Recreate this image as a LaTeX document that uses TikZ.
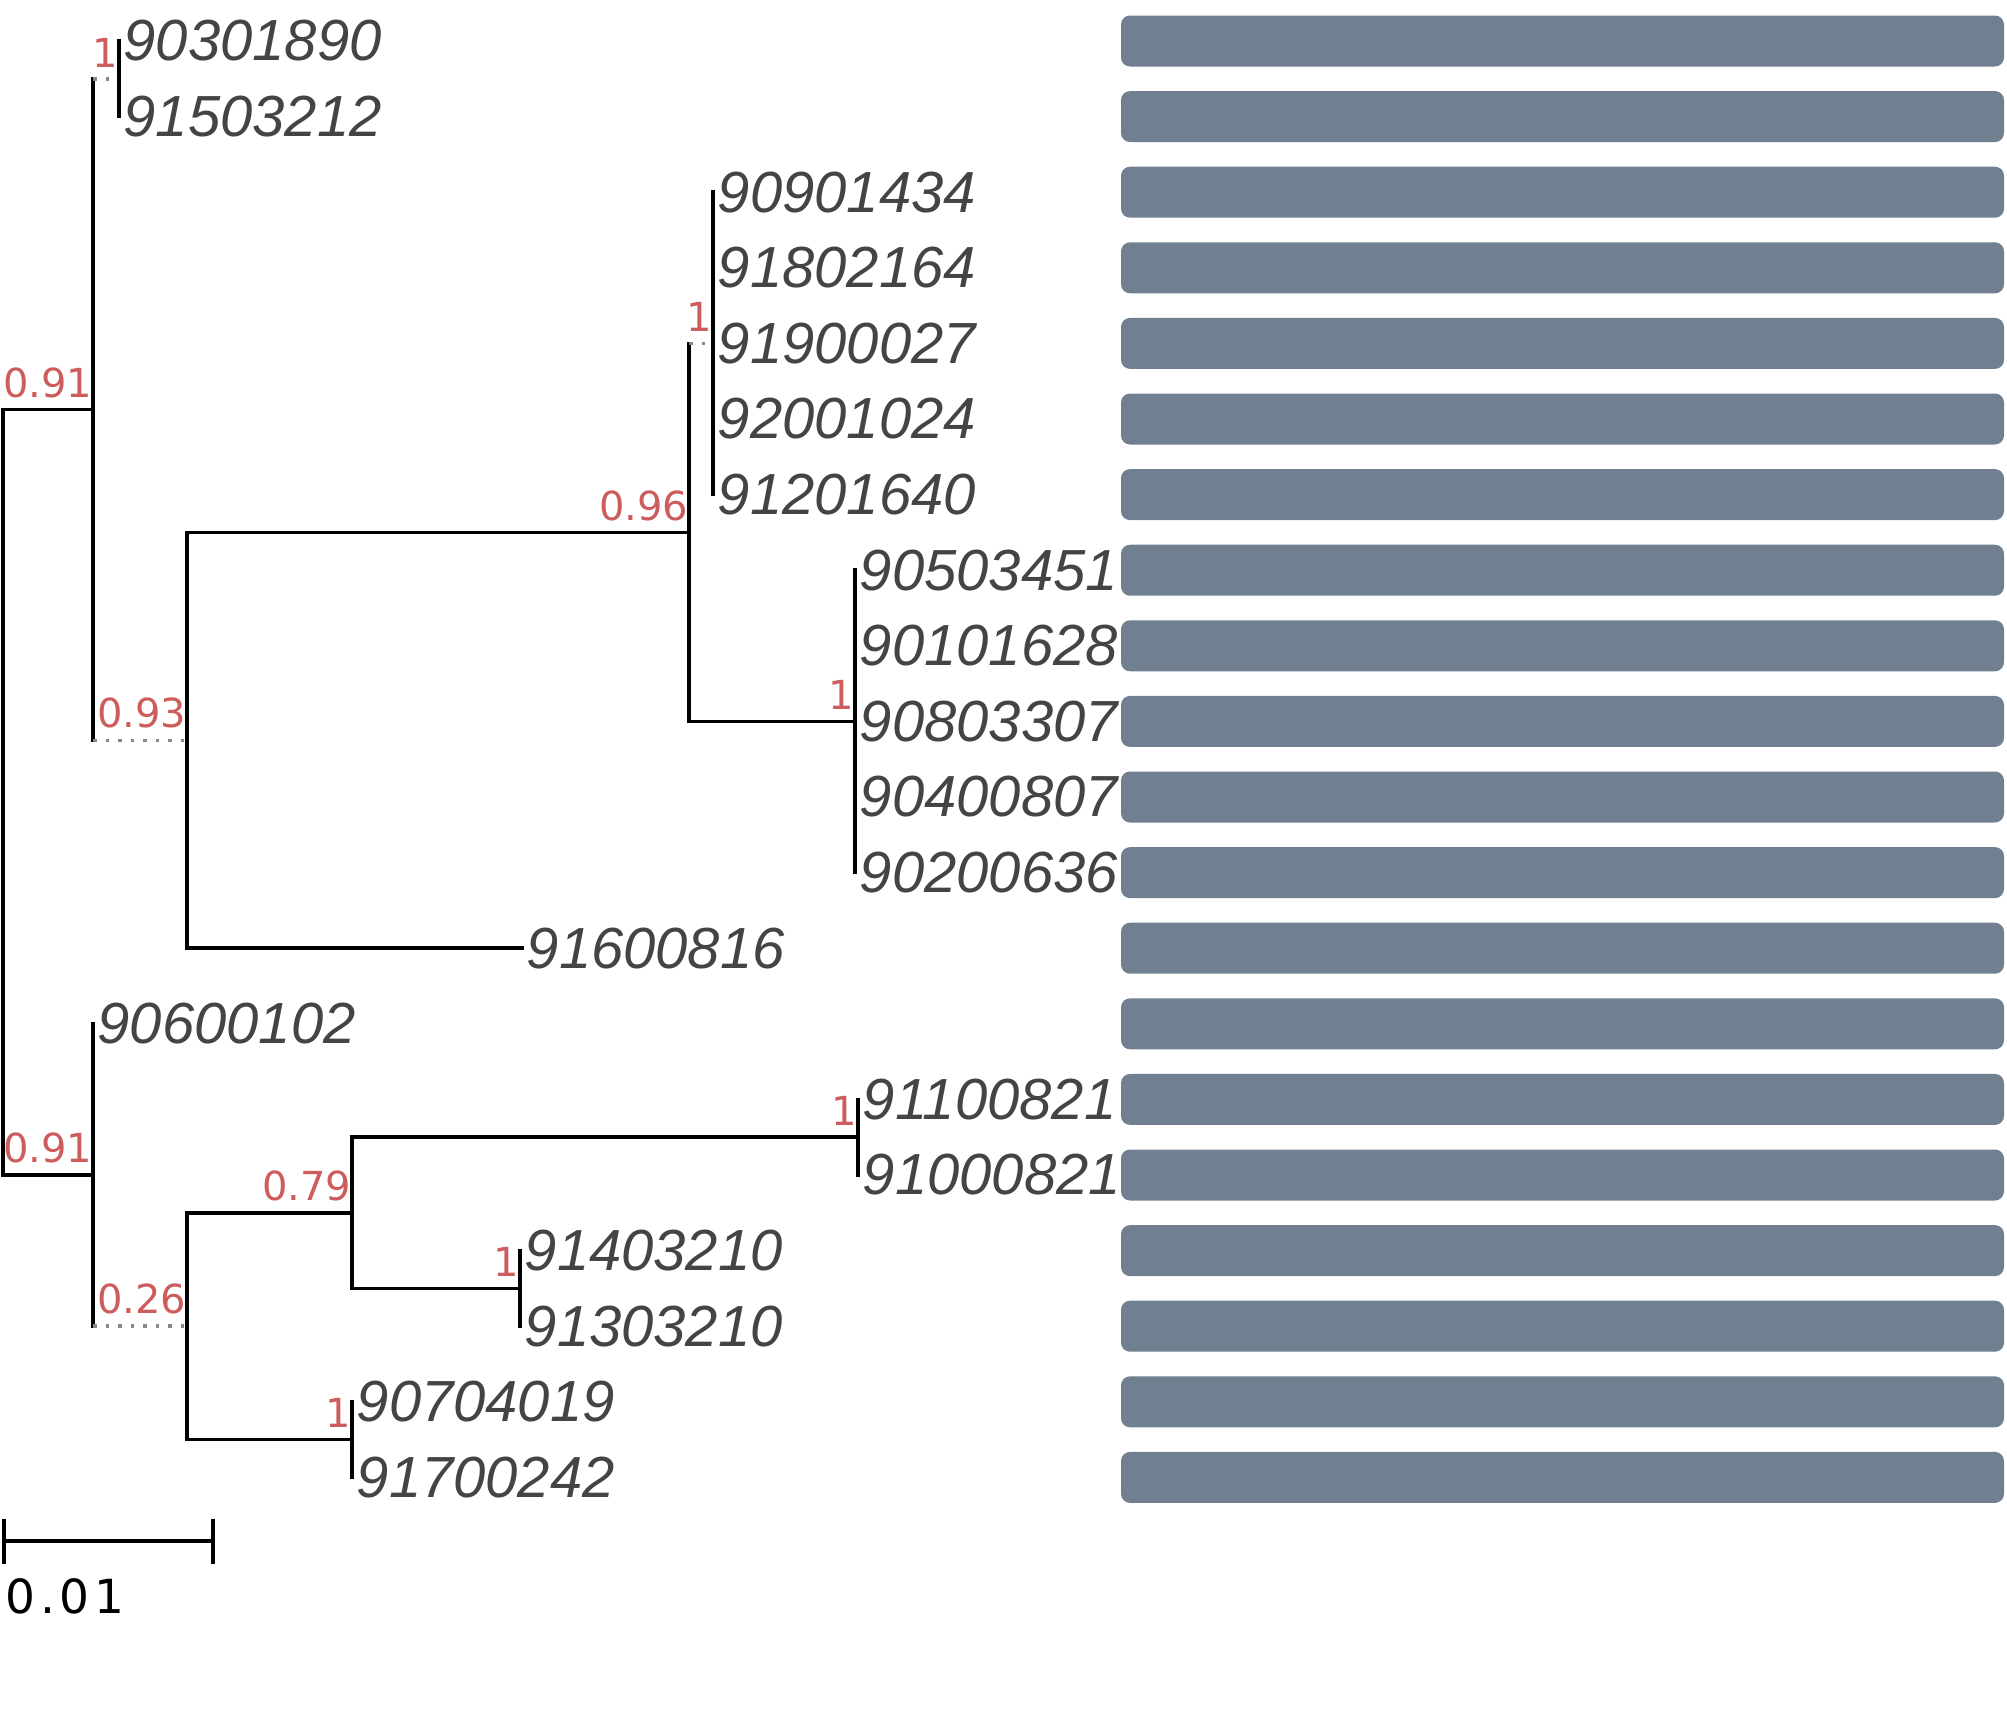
\documentclass[tikz,border=0pt]{standalone}
\usepackage{fontspec}
\newfontfamily\leaffont{Liberation Sans}
\newfontfamily\suppfont{DejaVu Sans}
\definecolor{barcol}{HTML}{708090}
\definecolor{suppred}{HTML}{CD5C5C}
\definecolor{leafgray}{HTML}{444444}
\definecolor{dotgray}{HTML}{888888}

\begin{document}
\begin{tikzpicture}[x=1pt, y=-1pt, line width=3.5pt,
  branch/.style={black, line cap=rect},
  dotbranch/.style={dotgray, line width=3.5pt, dash pattern=on 3.5pt off 9pt},
  leaf/.style={anchor=west, inner sep=0pt, xshift=3pt, text=leafgray,
    font=\leaffont\itshape\fontsize{58}{60}\selectfont},
  supp/.style={anchor=south east, inner sep=0pt, xshift=1pt, yshift=10pt,
    text=suppred, font=\suppfont\fontsize{40}{42}\selectfont},
  bar/.style={fill=barcol, rounded corners=9pt, minimum width=883pt,
    minimum height=51pt, inner sep=0pt}]

\useasboundingbox (0,0) rectangle (2007,1729);

% Leaves, labels and bars
\foreach \i/\x/\name in {0/119/90301890, 1/119/91503212, 2/713/90901434,
    3/713/91802164, 4/713/91900027, 5/713/92001024, 6/713/91201640,
    7/855/90503451, 8/855/90101628, 9/855/90803307, 10/855/90400807,
    11/855/90200636, 12/522/91600816, 13/93/90600102, 14/858/91100821,
    15/858/91000821, 16/520/91403210, 17/520/91303210, 18/352/90704019,
    19/352/91700242} {
  \coordinate (l\i) at (\x, 41+75.6*\i);
  \node[leaf] (t\i) at (l\i) {\name};
  \node[bar] (b\i) at (1562.5, 41+75.6*\i) {};
}

% Internal nodes
\coordinate (root) at (3,792.3);
\coordinate (nTop) at (93,409.55);
\coordinate (nA) at (119,78.8);
\coordinate (nC) at (187,740.3);
\coordinate (nD) at (689,532.4);
\coordinate (nE) at (713,343.4);
\coordinate (nF) at (855,721.4);
\coordinate (nBot) at (93,1175);
\coordinate (nG) at (187,1326.2);
\coordinate (nH) at (352,1212.8);
\coordinate (nI) at (858,1137.2);
\coordinate (nJ) at (520,1288.4);
\coordinate (nK) at (352,1439.6);

% Upper half
\draw[branch] (nTop) -| (root) |- (nBot);
\draw[branch] (nTop |- nA) -- (nTop |- nC);
\draw[dotbranch] (nTop |- nA) -- (nA);
\draw[dotbranch] (nTop |- nC) -- (nC);
\draw[branch] (l0) -- (l1);
\draw[branch] (nD) -| (nC) |- (l12);
\draw[branch] (nD |- nE) -- (nD) |- (nF);
\draw[dotbranch] (nD |- nE) -- (nE);
\draw[branch] (l2) -- (l6);
\draw[branch] (l7) -- (l11);

% Lower half
\draw[branch] (l13) -- (nBot |- nG);
\draw[dotbranch] (nBot |- nG) -- (nG);
\draw[branch] (nH) -| (nG) |- (nK);
\draw[branch] (nI) -| (nH) |- (nJ);
\draw[branch] (l14) -- (l15);
\draw[branch] (l16) -- (l17);
\draw[branch] (l18) -- (l19);

% Support values
\node[supp] (sTop) at (nTop) {0.91};
\node[supp] (sA) at (nA) {1};
\node[supp] (sC) at (nC) {0.93};
\node[supp] (sD) at (nD) {0.96};
\node[supp] (sE) at (nE) {1};
\node[supp] (sF) at (nF) {1};
\node[supp] (sBot) at (nBot) {0.91};
\node[supp] (sG) at (nG) {0.26};
\node[supp] (sH) at (nH) {0.79};
\node[supp] (sI) at (nI) {1};
\node[supp] (sJ) at (nJ) {1};
\node[supp] (sK) at (nK) {1};

% Scale bar
\coordinate (sb0) at (4,1541);
\coordinate (sb1) at (213,1541);
\draw (sb0) -- (sb1);
\draw ([yshift=22.5pt]sb0) -- ([yshift=-22.5pt]sb0);
\draw ([yshift=22.5pt]sb1) -- ([yshift=-22.5pt]sb1);
\node[anchor=north west, inner sep=0pt,
  font=\suppfont\fontsize{47}{49}\selectfont\addfontfeature{LetterSpace=10}]
  (sclab) at (4,1577) {0.01};

\end{tikzpicture}
\end{document}
